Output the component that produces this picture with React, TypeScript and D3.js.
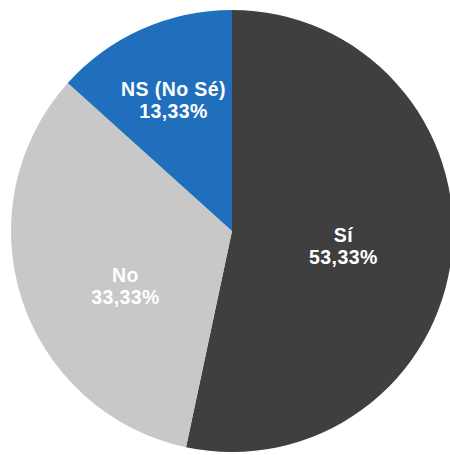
import React from "react";
import * as d3 from "d3";

const categories = ["Sí", "No", "NS (No Sé)"];
const values = [53.33, 33.33, 13.33];
const valueLabels = ["53,33%", "33,33%", "13,33%"];

const colors = ["#3f3f3f", "#c8c8c8", "#1f6fbd"];
const labelNudge: [number, number][] = [
  [0, 3],
  [0, 20],
  [-13, -29],
];

const W = 450;
const H = 455;
const cx = 232;
const cy = 231;
const R = 221;

export default function App() {
  const pie = d3
    .pie<number>()
    .sort(null)
    .value((d) => d);
  const arcs = pie(values);
  const arc = d3.arc<d3.PieArcDatum<number>>().innerRadius(0).outerRadius(R);
  const labelArc = d3
    .arc<d3.PieArcDatum<number>>()
    .innerRadius(112)
    .outerRadius(112);

  return (
    <svg
      width={W}
      height={H}
      style={{ position: "absolute", left: 0, top: 0, background: "#ffffff" }}
    >
      <g transform={`translate(${cx},${cy})`}>
        {arcs.map((a, i) => (
          <path key={i} d={arc(a) || ""} fill={colors[i]} />
        ))}
        {arcs.map((a, i) => {
          const [x, y] = labelArc.centroid(a);
          const lx = x + labelNudge[i][0];
          const ly = y + labelNudge[i][1];
          return (
            <text
              key={"t" + i}
              x={lx}
              y={ly}
              textAnchor="middle"
              fill="#ffffff"
              fontFamily="'Liberation Sans', Arial, sans-serif"
              fontWeight="bold"
              fontSize={19.5}
              letterSpacing={0.4}
            >
              <tspan x={lx} dy={-4}>
                {categories[i]}
              </tspan>
              <tspan x={lx} dy={22}>
                {valueLabels[i]}
              </tspan>
            </text>
          );
        })}
      </g>
    </svg>
  );
}
